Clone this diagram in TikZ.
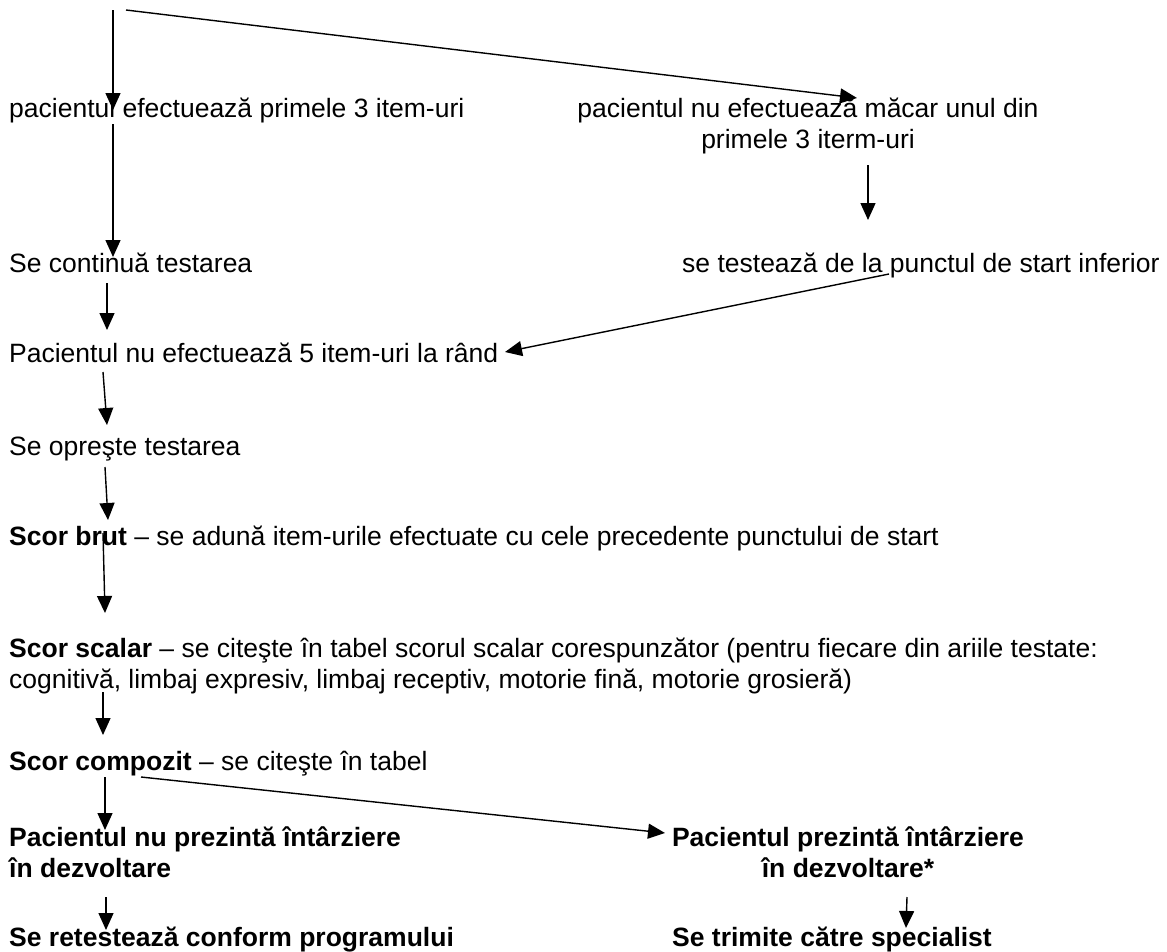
\documentclass[tikz,border=0pt]{standalone}
\usepackage{fontspec}
\setmainfont{Liberation Sans}
\usetikzlibrary{arrows.meta}

\begin{document}
\begin{tikzpicture}[x=1pt, y=-1pt,
    every node/.style={inner sep=0pt, anchor=base west, font=\fontsize{26.5}{31}\selectfont},
    boldtxt/.style={font=\fontsize{26.5}{31}\selectfont\bfseries},
    arr/.style={line width=1.4pt, -{Triangle[length=17pt,width=15pt]}}]
    \useasboundingbox (0,0) rectangle (1167,951);

    % steps (two-line nodes sit on their last line)
    \node (ok3) at (9,117) {pacientul efectuează primele 3 item-uri};
    \node[anchor=base, align=center] (notok) at (808,148) {pacientul nu efectuează măcar unul din\\primele 3 iterm-uri};
    \node (cont) at (9,272) {Se continuă testarea};
    \node (lower) at (682,272) {se testează de la punctul de start inferior};
    \node (five) at (9,362) {Pacientul nu efectuează 5 item-uri la rând};
    \node (stop) at (9,455) {Se opreşte testarea};
    \node (brut) at (9,545) {\textbf{Scor brut} – se adună item-urile efectuate cu cele precedente punctului de start};
    \node[align=left] (scalar) at (9,688) {\textbf{Scor scalar} – se citeşte în tabel scorul scalar corespunzător (pentru fiecare din ariile testate:\\cognitivă, limbaj expresiv, limbaj receptiv, motorie fină, motorie grosieră)};
    \node (compozit) at (9,770) {\textbf{Scor compozit} – se citeşte în tabel};
    \node[boldtxt, align=left] (nodelay) at (9,877) {Pacientul nu prezintă întârziere\\în dezvoltare};
    \node[boldtxt, anchor=base, align=center] (delay) at (848,877) {Pacientul prezintă întârziere\\în dezvoltare*};
    \node[boldtxt] (retest) at (9,946) {Se retestează conform programului};
    \node[boldtxt] (refer) at (672,946) {Se trimite către specialist};

    % arrows
    \coordinate (top) at (113,10);
    \coordinate (topr) at (126,10);
    \draw[arr] (top) -- ([xshift=104pt,yshift=7pt]ok3.base west);
    \draw[arr] (topr) -- ([xshift=49pt,yshift=50pt]notok.base);

    \draw[arr] ([xshift=104pt,yshift=-7pt]ok3.base west) -- ([xshift=104pt,yshift=15pt]cont.base west);
    \draw[arr] ([xshift=60pt,yshift=-17pt]notok.base) -- ([xshift=186pt,yshift=52pt]lower.base west);

    \draw[arr] ([xshift=98pt,yshift=-11pt]cont.base west) -- ([xshift=98pt,yshift=32pt]five.base west);
    \draw[arr] ([xshift=207pt,yshift=-2pt]lower.base west) -- ([xshift=496pt,yshift=10pt]five.base west);

    \draw[arr] ([xshift=94pt,yshift=-10pt]five.base west) -- ([xshift=98pt,yshift=30pt]stop.base west);
    \draw[arr] ([xshift=96pt,yshift=-12pt]stop.base west) -- ([xshift=99pt,yshift=25pt]brut.base west);
    \draw[arr] ([xshift=94pt,yshift=12pt]brut.base west) -- ([xshift=96pt,yshift=75pt]scalar.base west);
    \draw[arr] ([xshift=94pt,yshift=-4pt]scalar.base west) -- ([xshift=94pt,yshift=35pt]compozit.base west);

    \draw[arr] ([xshift=96pt,yshift=-7pt]compozit.base west) -- ([xshift=96pt,yshift=47pt]nodelay.base west);
    \draw[arr] ([xshift=132pt,yshift=-7pt]compozit.base west) -- ([xshift=-183pt,yshift=44pt]delay.base);

    \draw[arr] ([xshift=97pt,yshift=-20pt]nodelay.base west) -- ([xshift=97pt,yshift=16pt]retest.base west);
    \draw[arr] ([xshift=59pt,yshift=-20pt]delay.base) -- ([xshift=234pt,yshift=18pt]refer.base west);
\end{tikzpicture}
\end{document}
